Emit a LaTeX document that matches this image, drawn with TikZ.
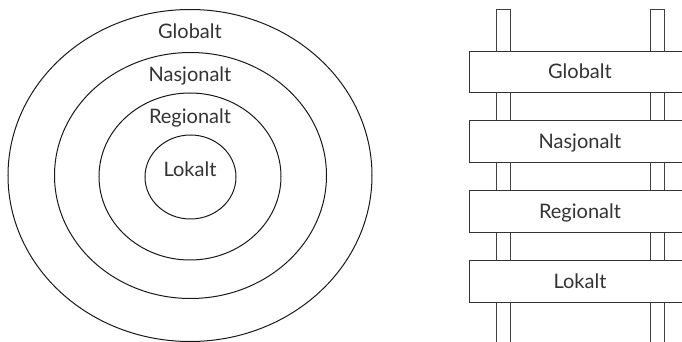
\documentclass[tikz,border=0pt]{standalone}
\usepackage{fontspec}
\setmainfont{Lato}
\usetikzlibrary{shapes.geometric}
\definecolor{ink}{HTML}{333333}
\tikzstyle{ring}=[ellipse, draw=black!90, line width=0.5pt, inner sep=0pt]
\tikzstyle{lvl}=[inner sep=0pt, text=ink, font=\fontsize{10}{12}\selectfont, text height=7pt, text depth=0pt]
\tikzstyle{rung}=[rectangle, draw=black!80, line width=0.5pt, fill=white, minimum width=111pt, minimum height=20.85pt, inner sep=0pt, text=ink, font=\fontsize{10}{12}\selectfont, text height=7pt, text depth=0pt]
\tikzstyle{rail}=[draw=black!75, line width=0.5pt]

\begin{document}
\begin{tikzpicture}[x=0.5pt,y=-0.5pt]
	\useasboundingbox (0,0) rectangle (682,342);
	\clip (0,0) rectangle (682,342);

	%The rings
	\draw (190,175.5) node[ring, minimum width=364pt/2, minimum height=332pt/2] (r1) {};
	\draw (190.5,175.5) node[ring, minimum width=272pt/2, minimum height=246pt/2] (r2) {};
	\draw (190,176.5) node[ring, minimum width=182pt/2, minimum height=167pt/2] (r3) {};
	\draw (190.5,177) node[ring, minimum width=91pt/2, minimum height=84pt/2] (r4) {};

	\draw (190,32) node[lvl] (g1) {Globalt};
	\draw (190,74.7) node[lvl] (n1) {Nasjonalt};
	\draw (190,117) node[lvl] (re1) {Regionalt};
	\draw (190,169.7) node[lvl] (l1) {Lokalt};

	%The rails
	\draw[rail] (496.7,360) -- (496.7,9.3) -- (510.7,9.3) -- (510.7,360);
	\draw[rail] (650,360) -- (650,9.3) -- (664,9.3) -- (664,360);

	%The rungs
	\draw (580,71.9) node[rung] (g2) {Globalt};
	\draw (580,141.8) node[rung] (n2) {Nasjonalt};
	\draw (580,211.4) node[rung] (re2) {Regionalt};
	\draw (580,281.3) node[rung] (l2) {Lokalt};
\end{tikzpicture}
\end{document}
